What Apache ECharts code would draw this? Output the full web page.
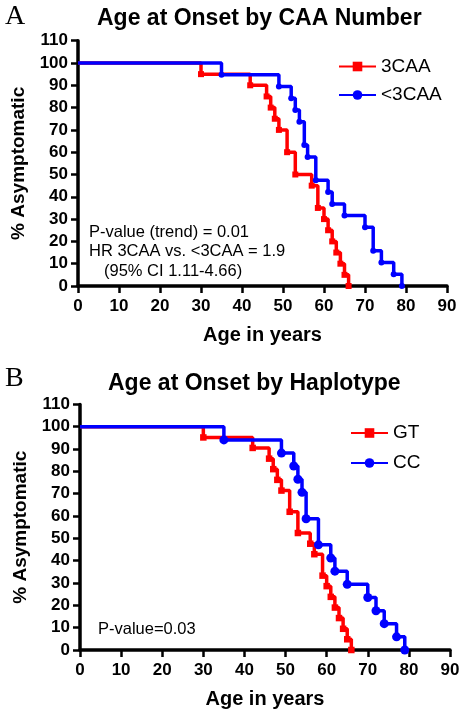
<!DOCTYPE html>
<html><head><meta charset="utf-8">
<script src="https://cdn.jsdelivr.net/npm/echarts@6/dist/echarts.min.js"></script>
<style>html,body{margin:0;padding:0;background:#fff}#c{width:464px;height:715px}</style>
</head><body><div id="c"></div>
<script>
// Tick labels
const xTicks = [0, 10, 20, 30, 40, 50, 60, 70, 80, 90];
const yTicks = [0, 10, 20, 30, 40, 50, 60, 70, 80, 90, 100, 110];

// Panel A: Age at Onset by CAA Number
const ageA_3CAA  = [0, 30, 42, 46, 47, 48, 49, 51, 53, 57, 58.5, 60, 61, 62, 63, 64, 65, 66];
const survA_3CAA = [100, 95, 90, 85, 80, 75, 70, 60, 50, 45, 35, 30, 25, 20, 15, 10, 5, 0];
const ageA_lt3   = [0, 35, 49, 52, 53, 54, 55.2, 56, 58, 61, 62, 65, 70, 72, 74, 77, 79];
const survA_lt3  = [100, 94.7, 89.5, 84.2, 78.9, 73.7, 63.2, 57.9, 47.4, 42.1, 36.8, 31.6, 26.3, 15.8, 10.5, 5.3, 0];

// Panel B: Age at Onset by Haplotype
const ageB_GT  = [0, 30, 42, 46, 47, 48, 49, 51, 53, 56, 57, 59, 60, 61, 62, 63, 64, 65, 66];
const survB_GT = [100, 95.2, 90.5, 85.7, 81, 76.2, 71.4, 61.9, 52.4, 47.6, 42.9, 33.3, 28.6, 23.8, 19, 14.3, 9.5, 4.8, 0];
const ageB_CC  = [0, 35, 49, 52, 53, 54, 55, 58, 61, 62, 65, 70, 72, 74, 77, 79];
const survB_CC = [100, 94.1, 88.2, 82.4, 76.5, 70.6, 58.8, 47.1, 41.2, 35.3, 29.4, 23.5, 17.6, 11.8, 5.9, 0];

const SANS = '"Liberation Sans", Arial, Helvetica, sans-serif';
const SERIF = '"Liberation Serif", "Times New Roman", serif';

function pts(ages, survs) {
  return ages.map((a, i) => i === 0 ? { value: [a, survs[i]], symbol: 'none' } : [a, survs[i]]);
}

function xAxisCfg(gi) {
  return {
    type: 'value', gridIndex: gi, min: 0, max: 90, interval: 10,
    name: 'Age in years', nameLocation: 'middle', nameGap: 39,
    nameTextStyle: { fontSize: 20, fontWeight: 'bold', color: '#000', fontFamily: SANS },
    axisLine: { show: true, onZero: false, lineStyle: { color: '#000', width: 3.5 } },
    axisTick: { show: true, length: 7, customValues: xTicks, lineStyle: { color: '#000', width: 2.5 } },
    axisLabel: { fontSize: 17, fontWeight: 'bold', color: '#000', margin: 12, fontFamily: SANS, customValues: xTicks },
    splitLine: { show: false }
  };
}
function yAxisCfg(gi) {
  return {
    type: 'value', gridIndex: gi, min: 0, max: 110, interval: 10,
    name: '% Asymptomatic', nameLocation: 'middle', nameGap: 43,
    nameTextStyle: { fontSize: 19, fontWeight: 'bold', color: '#000', fontFamily: SANS },
    axisLine: { show: true, onZero: false, lineStyle: { color: '#000', width: 3.5 } },
    axisTick: { show: true, length: 7, customValues: yTicks, lineStyle: { color: '#000', width: 2.5 } },
    axisLabel: { fontSize: 17, fontWeight: 'bold', color: '#000', margin: 10, fontFamily: SANS, customValues: yTicks },
    splitLine: { show: false }
  };
}
function stepSeries(name, data, gi, color, symbol, size, z) {
  return {
    name, type: 'line', step: 'end', xAxisIndex: gi, yAxisIndex: gi,
    data, symbol, symbolSize: size, showAllSymbol: true, clip: false, z,
    lineStyle: { color, width: 3.5 }, itemStyle: { color, borderWidth: 0 },
    emphasis: { disabled: true }, animation: false
  };
}

const chart = echarts.init(document.getElementById('c'), null, { renderer: 'canvas' });
chart.setOption({
  backgroundColor: '#fff',
  animation: false,
  title: [
    { text: 'A', left: 5, top: 3, padding: 0, textStyle: { fontFamily: SERIF, fontSize: 28, fontWeight: 'normal', color: '#000' } },
    { text: 'Age at Onset by CAA Number', left: 97, top: 7, padding: 0, textStyle: { fontFamily: SANS, fontSize: 23, fontWeight: 'bold', color: '#000' } },
    { text: 'B', left: 5, top: 365, padding: 0, textStyle: { fontFamily: SERIF, fontSize: 28, fontWeight: 'normal', color: '#000' } },
    { text: 'Age at Onset by Haplotype', left: 108, top: 372, padding: 0, textStyle: { fontFamily: SANS, fontSize: 23, fontWeight: 'bold', color: '#000' } }
  ],
  grid: [
    { left: 78, right: 17, top: 40.7, bottom: 429, containLabel: false },
    { left: 80, right: 14, top: 404.4, bottom: 65, containLabel: false }
  ],
  legend: [
    { data: ['3CAA', '<3CAA'], orient: 'vertical', left: 338, top: 57, padding: 0,
      itemWidth: 37, itemHeight: 12, itemGap: 9.5,
      textStyle: { fontSize: 19, color: '#000', fontFamily: SANS } },
    { data: ['GT', 'CC'], orient: 'vertical', left: 350, top: 423.5, padding: 0,
      itemWidth: 37, itemHeight: 12, itemGap: 11,
      textStyle: { fontSize: 19, color: '#000', fontFamily: SANS } }
  ],
  xAxis: [xAxisCfg(0), xAxisCfg(1)],
  yAxis: [yAxisCfg(0), yAxisCfg(1)],
  series: [
    stepSeries('3CAA', pts(ageA_3CAA, survA_3CAA), 0, '#ff0000', 'rect', 6, 2),
    stepSeries('<3CAA', pts(ageA_lt3, survA_lt3), 0, '#0000ff', 'circle', 6, 3),
    stepSeries('GT', pts(ageB_GT, survB_GT), 1, '#ff0000', 'rect', 6.5, 2),
    stepSeries('CC', pts(ageB_CC, survB_CC), 1, '#0000ff', 'circle', 9, 3)
  ],
  graphic: [
    { type: 'text', left: 89, top: 223.5, style: { text: 'P-value (trend) = 0.01', fontSize: 16.5, fontFamily: SANS, fill: '#000' } },
    { type: 'text', left: 89, top: 243, style: { text: 'HR 3CAA vs. <3CAA = 1.9', fontSize: 16.5, fontFamily: SANS, fill: '#000' } },
    { type: 'text', left: 104, top: 262.5, style: { text: '(95% CI 1.11-4.66)', fontSize: 16.5, fontFamily: SANS, fill: '#000' } },
    { type: 'text', left: 98, top: 621, style: { text: 'P-value=0.03', fontSize: 16.5, fontFamily: SANS, fill: '#000' } }
  ]
});
</script>
</body></html>
